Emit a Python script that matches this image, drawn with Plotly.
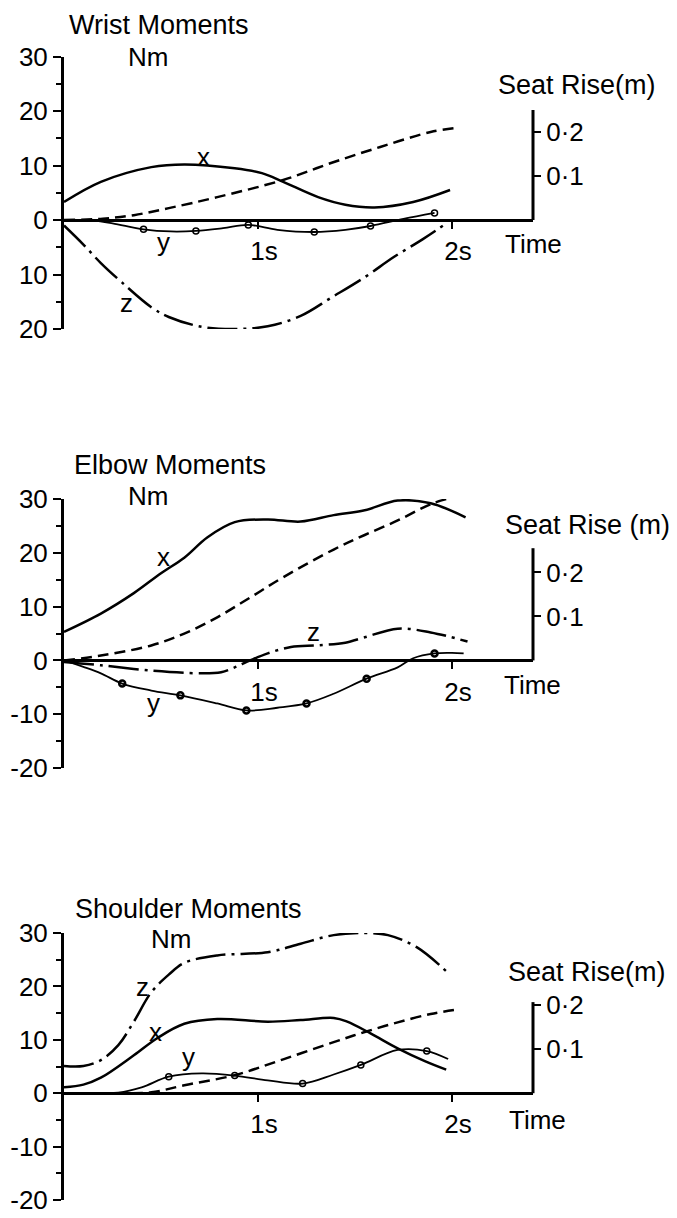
import plotly.graph_objects as go

# ---------------- data ----------------
TIME_TICKS = [1, 2]
TIME_LABELS = ["1s", "2s"]
MOMENT_TICKS = [-20, -10, 0, 10, 20, 30]
MOMENT_MINOR = [-15, -5, 5, 15, 25]
WRIST_MOMENT_LABELS = ["20", "10", "0", "10", "20", "30"]
ELBOW_MOMENT_LABELS = ["-20", "-10", "0", "10", "20", "30"]
SHOULDER_MOMENT_LABELS = ["-20", "-10", "0", "10", "20", "30"]
SEAT_TICKS = [0.1, 0.2]
SEAT_LABELS = ["0·1", "0·2"]

# Wrist
wrist_x_t = [0, 0.19, 0.45, 0.62, 0.88, 1.02, 1.13, 1.31, 1.45, 1.6, 1.8, 1.99]
wrist_x_v = [3.3, 7.0, 9.7, 10.2, 9.5, 8.6, 7.0, 4.2, 2.8, 2.3, 3.3, 5.5]
wrist_y_t = [0, 0.15, 0.25, 0.41, 0.55, 0.68, 0.82, 0.95, 1.1, 1.29, 1.45, 1.58, 1.75, 1.91]
wrist_y_v = [0, -0.1, -0.6, -1.7, -2.1, -2.0, -1.5, -0.9, -1.8, -2.2, -1.8, -1.1, 0.2, 1.3]
wrist_y_mark_t = [0.41, 0.68, 0.95, 1.29, 1.58, 1.91]
wrist_y_mark_v = [-1.7, -2.0, -0.9, -2.2, -1.1, 1.3]
wrist_z_t = [0, 0.1, 0.19, 0.3, 0.45, 0.54, 0.71, 0.88, 1.05, 1.22, 1.38, 1.55, 1.70, 1.85, 1.98]
wrist_z_v = [-1.0, -4.5, -7.9, -11.5, -16.0, -17.8, -19.6, -20.0, -19.5, -17.6, -14.2, -10.5, -6.8, -3.5, -0.4]
wrist_seat_t = [0, 0.2, 0.36, 0.54, 0.79, 1.13, 1.38, 1.63, 1.89, 2.02]
wrist_seat_m = [0, 0.003, 0.011, 0.027, 0.052, 0.091, 0.130, 0.166, 0.200, 0.209]

# Elbow
elbow_x_t = [0, 0.19, 0.36, 0.5, 0.62, 0.74, 0.88, 1.05, 1.22, 1.39, 1.55, 1.72, 1.89, 2.07]
elbow_x_v = [5.3, 8.7, 12.5, 16.2, 19.1, 22.9, 25.7, 26.2, 25.8, 27.0, 27.9, 29.7, 29.2, 26.6]
elbow_y_t = [0, 0.1, 0.19, 0.30, 0.45, 0.60, 0.79, 0.94, 1.1, 1.25, 1.39, 1.56, 1.72, 1.80, 1.91, 2.0, 2.06]
elbow_y_v = [0, -1.2, -2.4, -4.3, -5.6, -6.5, -8.0, -9.3, -8.8, -8.0, -6.2, -3.4, -1.3, 0.4, 1.3, 1.4, 1.3]
elbow_y_mark_t = [0.30, 0.60, 0.94, 1.25, 1.56, 1.91]
elbow_y_mark_v = [-4.3, -6.5, -9.3, -8.0, -3.4, 1.3]
elbow_z_t = [0, 0.19, 0.45, 0.71, 0.81, 0.88, 0.96, 1.05, 1.17, 1.31, 1.45, 1.55, 1.72, 1.89, 2.08]
elbow_z_v = [-0.3, -0.9, -1.9, -2.4, -2.2, -1.3, 0, 1.3, 2.5, 2.8, 3.3, 4.3, 5.9, 5.2, 3.5]
elbow_seat_t = [0, 0.19, 0.45, 0.62, 0.79, 0.96, 1.13, 1.39, 1.55, 1.72, 1.89, 2.0]
elbow_seat_m = [0, 0.011, 0.034, 0.061, 0.098, 0.143, 0.189, 0.252, 0.285, 0.318, 0.355, 0.370]

# Shoulder
shoulder_x_t = [0, 0.1, 0.19, 0.36, 0.48, 0.62, 0.79, 1.05, 1.22, 1.39, 1.46, 1.58, 1.72, 1.86, 1.97]
shoulder_x_v = [1.1, 1.6, 2.9, 7.1, 10.3, 13.0, 13.9, 13.4, 13.7, 14.1, 13.4, 11.2, 8.4, 6.0, 4.4]
shoulder_y_t = [0, 0.2, 0.28, 0.40, 0.54, 0.71, 0.88, 1.05, 1.23, 1.39, 1.53, 1.72, 1.87, 1.98]
shoulder_y_v = [0, 0, 0.1, 1.1, 3.1, 3.7, 3.3, 2.4, 1.8, 3.5, 5.3, 8.1, 7.9, 6.4]
shoulder_y_mark_t = [0.54, 0.88, 1.23, 1.53, 1.87]
shoulder_y_mark_v = [3.1, 3.3, 1.8, 5.3, 7.9]
shoulder_z_t = [0, 0.1, 0.19, 0.28, 0.36, 0.45, 0.54, 0.62, 0.79, 1.05, 1.22, 1.39, 1.55, 1.67, 1.82, 1.98]
shoulder_z_v = [5.1, 5.1, 6.2, 9.0, 13.4, 18.9, 22.2, 24.4, 25.8, 26.4, 28.0, 29.6, 30.0, 29.6, 27.3, 22.5]
shoulder_seat_t = [0, 0.3, 0.45, 0.62, 0.88, 1.13, 1.39, 1.55, 1.72, 1.89, 2.01]
shoulder_seat_m = [0, 0, 0.002, 0.018, 0.041, 0.077, 0.116, 0.139, 0.161, 0.180, 0.189]

# ---------------- layout helpers ----------------
W, H = 677, 1218
FONT = "Liberation Sans, Arial, sans-serif"
INK = "black"


def fx(px):
    return px / W


def fy(py):
    return 1 - py / H


X_LEFT, X_RIGHT, PX_PER_S = 64, 533, 194
SEAT_PX_PER_M = 440

panels = [
    dict(title="Wrist Moments", title_xy=(159, 25), nm_xy=(148, 57),
         seat_title="Seat Rise(m)", seat_xy=(577, 85), time_xy=(533, 244),
         ytop=56.5, ybot=329, seat_top=0.25, labels=WRIST_MOMENT_LABELS,
         x=(wrist_x_t, wrist_x_v), y=(wrist_y_t, wrist_y_v),
         ym=(wrist_y_mark_t, wrist_y_mark_v), z=(wrist_z_t, wrist_z_v),
         seat=(wrist_seat_t, wrist_seat_m),
         letters=[("x", 203, 157), ("y", 163, 242), ("z", 126, 303)],
         mark_w=1.5),
    dict(title="Elbow Moments", title_xy=(170, 465), nm_xy=(148, 496),
         seat_title="Seat Rise (m)", seat_xy=(587, 525), time_xy=(532, 685),
         ytop=499, ybot=768, seat_top=0.255, labels=ELBOW_MOMENT_LABELS,
         x=(elbow_x_t, elbow_x_v), y=(elbow_y_t, elbow_y_v),
         ym=(elbow_y_mark_t, elbow_y_mark_v), z=(elbow_z_t, elbow_z_v),
         seat=(elbow_seat_t, elbow_seat_m),
         letters=[("x", 163, 557), ("y", 153, 703), ("z", 313, 632)],
         mark_w=2.5),
    dict(title="Shoulder Moments", title_xy=(188, 909), nm_xy=(171, 939),
         seat_title="Seat Rise(m)", seat_xy=(587, 972), time_xy=(537, 1120),
         ytop=933, ybot=1200, seat_top=0.207, labels=SHOULDER_MOMENT_LABELS,
         x=(shoulder_x_t, shoulder_x_v), y=(shoulder_y_t, shoulder_y_v),
         ym=(shoulder_y_mark_t, shoulder_y_mark_v), z=(shoulder_z_t, shoulder_z_v),
         seat=(shoulder_seat_t, shoulder_seat_m),
         letters=[("z", 142, 987), ("x", 155, 1032), ("y", 188, 1057)],
         mark_w=1.5),
]

fig = go.Figure()
layout = dict(
    width=W, height=H, margin=dict(l=0, r=0, t=0, b=0, pad=0, autoexpand=False),
    paper_bgcolor="white", plot_bgcolor="rgba(0,0,0,0)",
    showlegend=False, font=dict(family=FONT, color=INK, size=26),
)
annotations = []
shapes = []

for i, p in enumerate(panels, start=1):
    sfx = "" if i == 1 else str(i)
    xname, yname, sname = "x" + sfx, "y" + sfx, "y" + str(i + 3)
    y0 = p["ytop"] + 30 * (p["ybot"] - p["ytop"]) / 50
    xmax = (X_RIGHT - X_LEFT) / PX_PER_S

    layout["xaxis" + sfx] = dict(
        domain=[fx(X_LEFT), fx(X_RIGHT)], range=[0, xmax], anchor="free",
        position=fy(y0), showline=False, showgrid=False, zeroline=False,
        automargin=False, ticklabeloverflow="allow",
        tickvals=TIME_TICKS, ticktext=TIME_LABELS, ticks="outside", ticklen=8,
        tickwidth=2, tickcolor=INK, ticklabelshift=6,
        tickfont=dict(size=26, family=FONT, color=INK),
    )
    layout["yaxis" + sfx] = dict(
        domain=[fy(p["ybot"]), fy(p["ytop"])], range=[-20, 30], anchor=xname,
        showline=True, linewidth=3, linecolor=INK, showgrid=False,
        zeroline=True, zerolinewidth=3, zerolinecolor=INK, automargin=False,
        ticklabeloverflow="allow",
        tickvals=MOMENT_TICKS, ticktext=p["labels"], ticks="outside",
        ticklen=8, tickwidth=2, tickcolor=INK,
        tickfont=dict(size=26, family=FONT, color=INK),
        minor=dict(tickvals=MOMENT_MINOR, ticks="outside", ticklen=5,
                   tickwidth=2, tickcolor=INK, showgrid=False),
    )
    layout["yaxis" + str(i + 3)] = dict(
        overlaying=yname, side="right", anchor=xname, automargin=False,
        ticklabeloverflow="allow",
        range=[-(p["ybot"] - y0) / SEAT_PX_PER_M, (y0 - p["ytop"]) / SEAT_PX_PER_M],
        showline=False, showgrid=False, zeroline=False,
        tickvals=SEAT_TICKS, ticktext=SEAT_LABELS, ticks="outside", ticklen=7,
        tickwidth=2, tickcolor=INK,
        tickfont=dict(size=26, family=FONT, color=INK),
    )
    shapes.append(dict(type="line", xref="paper", yref=sname,
                       x0=fx(X_RIGHT), x1=fx(X_RIGHT), y0=0, y1=p["seat_top"],
                       line=dict(color=INK, width=3)))

    line_common = dict(mode="lines", line_shape="spline", hoverinfo="skip")
    fig.add_trace(go.Scatter(x=p["x"][0], y=p["x"][1], xaxis=xname, yaxis=yname,
                             line=dict(color=INK, width=2.5), **line_common))
    fig.add_trace(go.Scatter(x=p["z"][0], y=p["z"][1], xaxis=xname, yaxis=yname,
                             line=dict(color=INK, width=2.5, dash="30px,6px,3px,6px"),
                             **line_common))
    fig.add_trace(go.Scatter(x=p["y"][0], y=p["y"][1], xaxis=xname, yaxis=yname,
                             line=dict(color=INK, width=1.8), **line_common))
    fig.add_trace(go.Scatter(x=p["ym"][0], y=p["ym"][1], xaxis=xname, yaxis=yname,
                             mode="markers", hoverinfo="skip",
                             marker=dict(symbol="circle-open", size=6, color=INK,
                                         line=dict(width=p["mark_w"], color=INK))))
    fig.add_trace(go.Scatter(x=p["seat"][0], y=p["seat"][1], xaxis=xname, yaxis=sname,
                             line=dict(color=INK, width=2.5, dash="11px,6px"),
                             **line_common))

    def ann(text, xy, size):
        annotations.append(dict(text=text, x=fx(xy[0]), y=fy(xy[1]), xref="paper",
                                yref="paper", showarrow=False, xanchor="center",
                                yanchor="middle",
                                font=dict(size=size, family=FONT, color=INK)))

    ann(p["title"], p["title_xy"], 27)
    ann("Nm", p["nm_xy"], 26)
    ann(p["seat_title"], p["seat_xy"], 27)
    ann("Time", p["time_xy"], 26)
    for letter, lx, ly in p["letters"]:
        ann(letter, (lx, ly), 26)

layout["annotations"] = annotations
layout["shapes"] = shapes
fig.update_layout(**layout)

fig.write_html("out.html", config={"displayModeBar": False},
               post_script="document.body.style.margin='0';document.body.style.overflow='hidden';")
